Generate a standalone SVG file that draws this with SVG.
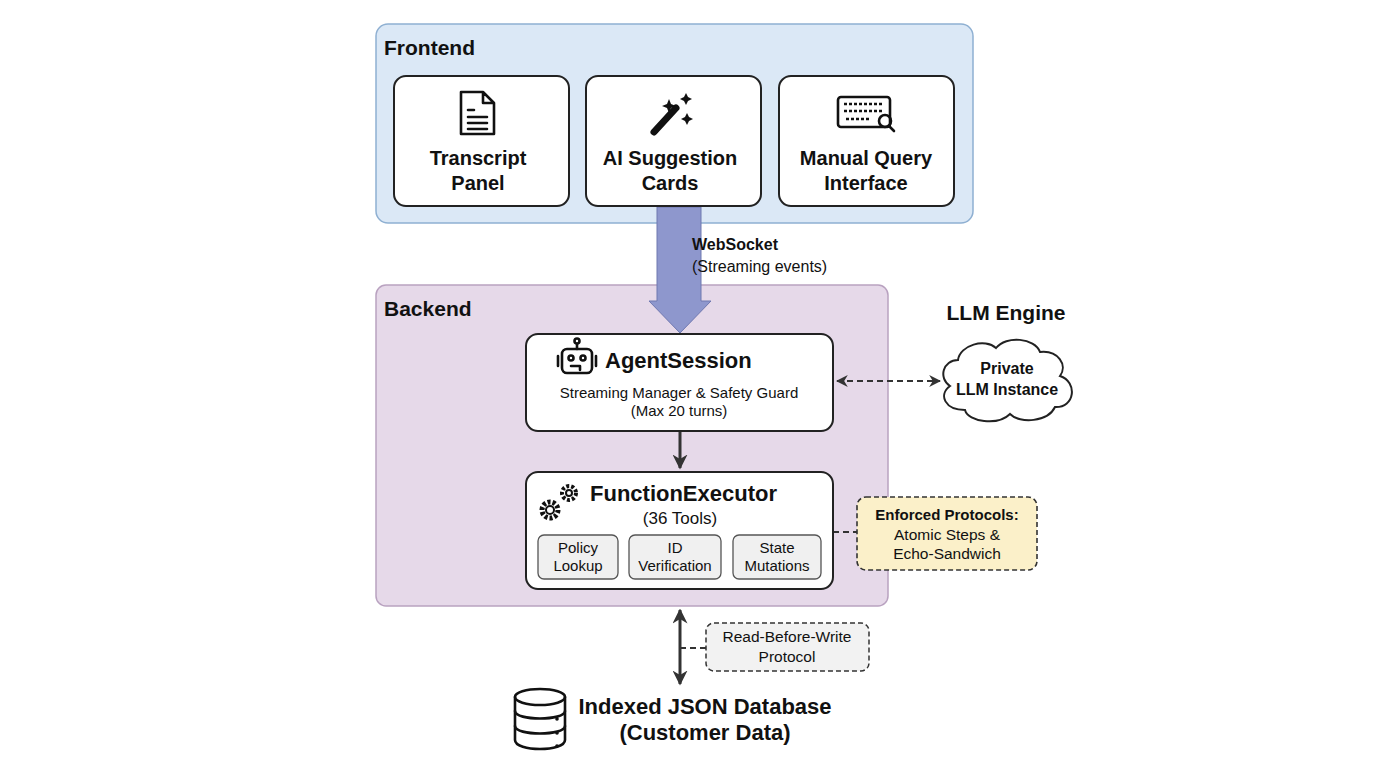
<svg xmlns="http://www.w3.org/2000/svg" width="1376" height="768" viewBox="0 0 1376 768">
<defs>
<style>
text{font-family:"Liberation Sans",Arial,sans-serif;fill:#111}
.b{font-weight:bold}
.card{fill:#fff;stroke:#222;stroke-width:2}
.sub{fill:#f0f0f0;stroke:#555;stroke-width:1.3}
.ic{fill:none;stroke:#111;stroke-width:2.6;stroke-linecap:round;stroke-linejoin:round}
.con{stroke:#333;stroke-width:3;fill:none}
.dash{stroke:#333;stroke-width:2;stroke-dasharray:6 4;fill:none}
</style>
<marker id="ah" viewBox="0 0 10 10" refX="9" refY="5" markerWidth="5" markerHeight="5" orient="auto-start-reverse"><path d="M0,0L10,5L0,10L3,5z" fill="#333"/></marker>
<marker id="ah2" viewBox="0 0 10 10" refX="9" refY="5" markerWidth="6" markerHeight="6" orient="auto-start-reverse"><path d="M0,0L10,5L0,10L3,5z" fill="#333"/></marker>
</defs>
<rect width="1376" height="768" fill="#fff"/>
<g id="frontend">
<rect x="376" y="24" width="597" height="199" rx="12" fill="#dbe8f6" stroke="#8fb0d2" stroke-width="1.5"/>
<text x="384" y="55" class="b" font-size="21">Frontend</text>
</g>
<g id="backend">
<rect x="376" y="285" width="512" height="321" rx="10" fill="#e6d9e9" stroke="#b9a2c0" stroke-width="1.5"/>
<text x="384" y="316" class="b" font-size="21">Backend</text>
</g>
<g id="connectors">
<path d="M657,207H701V301H711L680,333L649,301H657Z" fill="#8e97cd" stroke="#6f78b0" stroke-width="1"/>
<line x1="680" y1="432" x2="680" y2="468" class="con" marker-end="url(#ah)"/>
<line x1="837" y1="381" x2="940" y2="381" class="dash" stroke-width="2.6" marker-start="url(#ah2)" marker-end="url(#ah2)"/>
<line x1="833" y1="532" x2="857" y2="532" class="dash"/>
<line x1="680" y1="610" x2="680" y2="684" class="con" marker-start="url(#ah)" marker-end="url(#ah)"/>
<line x1="680" y1="648" x2="706" y2="648" class="dash" stroke-width="1.5"/>
</g>
<text x="692" y="250" class="b" font-size="16">WebSocket</text>
<text x="692" y="272" font-size="16">(Streaming events)</text>
<g id="transcript">
<rect x="394" y="76" width="175" height="130" rx="12" class="card"/>
<path d="M461,92H483L494,103V134H461Z M483,92V103H494 M468,110H474 M468,117H487 M468,123H487 M468,129H487" class="ic"/>
<text x="478" y="165" class="b" font-size="20" text-anchor="middle">Transcript</text>
<text x="478" y="190" class="b" font-size="20" text-anchor="middle">Panel</text>
</g>
<g id="aisuggest">
<rect x="586" y="76" width="175" height="130" rx="12" class="card"/>
<path d="M654,132L676,108" stroke="#111" stroke-width="7" stroke-linecap="round"/>
<path d="M669,99L671,104L676,106L671,108L669,113L667,108L662,106L667,104Z M686,93L688,97L692,99L688,101L686,105L684,101L680,99L684,97Z M687,113L689,117L693,119L689,121L687,125L685,121L681,119L685,117Z" fill="#111"/>
<text x="670" y="165" class="b" font-size="20" text-anchor="middle">AI Suggestion</text>
<text x="670" y="190" class="b" font-size="20" text-anchor="middle">Cards</text>
</g>
<g id="manual">
<rect x="779" y="76" width="175" height="130" rx="12" class="card"/>
<rect x="838" y="97" width="52" height="30" rx="3" class="ic"/>
<path d="M844,104H884 M844,111H884 M846,119H870" stroke="#111" stroke-width="2.5" stroke-dasharray="3 2"/>
<circle cx="885" cy="121" r="6" class="ic" fill="#fff"/><path d="M889,126L894,131" class="ic"/>
<text x="866" y="165" class="b" font-size="20" text-anchor="middle">Manual Query</text>
<text x="866" y="190" class="b" font-size="20" text-anchor="middle">Interface</text>
</g>
<g id="agentsession">
<rect x="526" y="334" width="307" height="97" rx="12" class="card"/>
<g class="ic" stroke-width="2">
<rect x="562" y="349" width="30" height="24" rx="5"/>
<circle cx="577" cy="341" r="2.5"/><path d="M577,344V349 M558,356V366 M596,356V366"/>
<circle cx="571" cy="358" r="2.5"/><circle cx="583" cy="358" r="2.5"/><path d="M571,366H580V370"/>
</g>
<text x="605" y="368" class="b" font-size="22">AgentSession</text>
<text x="679" y="398" font-size="15" text-anchor="middle">Streaming Manager &amp; Safety Guard</text>
<text x="679" y="416" font-size="15" text-anchor="middle">(Max 20 turns)</text>
</g>
<g id="functionexecutor">
<rect x="526" y="472" width="307" height="117" rx="12" class="card"/>
<g fill="none" stroke="#111" stroke-width="2">
<circle cx="550" cy="510" r="8" stroke-dasharray="3 2" stroke-width="5"/><circle cx="550" cy="510" r="4"/>
<circle cx="569" cy="493" r="7" stroke-dasharray="3 2" stroke-width="4"/><circle cx="569" cy="493" r="3"/>
</g>
<text x="590" y="501" class="b" font-size="22">FunctionExecutor</text>
<text x="680" y="524" font-size="17" text-anchor="middle">(36 Tools)</text>
<rect x="538" y="535" width="80" height="44" rx="6" class="sub"/>
<text x="578" y="553" font-size="15" text-anchor="middle">Policy</text><text x="578" y="571" font-size="15" text-anchor="middle">Lookup</text>
<rect x="629" y="535" width="92" height="44" rx="6" class="sub"/>
<text x="675" y="553" font-size="15" text-anchor="middle">ID</text><text x="675" y="571" font-size="15" text-anchor="middle">Verification</text>
<rect x="733" y="535" width="88" height="44" rx="6" class="sub"/>
<text x="777" y="553" font-size="15" text-anchor="middle">State</text><text x="777" y="571" font-size="15" text-anchor="middle">Mutations</text>
</g>
<g id="llm">
<text x="1006" y="320" class="b" font-size="21" text-anchor="middle">LLM Engine</text>
<path d="M958,360C960,345 985,338 996,348C1006,335 1035,338 1040,352C1058,350 1068,365 1060,376C1078,382 1075,408 1055,407C1048,422 1020,424 1010,414C998,426 968,422 965,410C945,410 938,395 950,386C938,378 943,360 958,360Z" fill="#fff" stroke="#222" stroke-width="2"/>
<text x="1007" y="374" class="b" font-size="16" text-anchor="middle">Private</text>
<text x="1007" y="395" class="b" font-size="16" text-anchor="middle">LLM Instance</text>
</g>
<g id="enforced">
<rect x="857" y="497" width="180" height="73" rx="9" fill="#fbf0c9" stroke="#333" stroke-width="1.6" stroke-dasharray="5 3"/>
<text x="947" y="520" class="b" font-size="15" text-anchor="middle">Enforced Protocols:</text>
<text x="947" y="540" font-size="15.5" text-anchor="middle">Atomic Steps &amp;</text>
<text x="947" y="559" font-size="15.5" text-anchor="middle">Echo-Sandwich</text>
</g>
<g id="rbw">
<rect x="706" y="623" width="163" height="48" rx="8" fill="#f2f2f2" stroke="#333" stroke-width="1.5" stroke-dasharray="5 3"/>
<text x="787" y="642" font-size="15.5" text-anchor="middle">Read-Before-Write</text>
<text x="787" y="662" font-size="15.5" text-anchor="middle">Protocol</text>
</g>
<g id="database">
<g class="ic" stroke-width="2.5">
<path d="M515,697V740C515,752 565,752 565,740V697"/>
<ellipse cx="540" cy="697" rx="25" ry="8"/>
<path d="M515,711C515,721 565,721 565,711 M515,726C515,736 565,736 565,726"/>
</g>
<circle cx="557" cy="719" r="1.8" fill="#111"/><circle cx="557" cy="733" r="1.8" fill="#111"/><circle cx="557" cy="746" r="1.8" fill="#111"/>
<text x="705" y="714" class="b" font-size="22" text-anchor="middle">Indexed JSON Database</text>
<text x="705" y="740" class="b" font-size="22" text-anchor="middle">(Customer Data)</text>
</g>
</svg>
